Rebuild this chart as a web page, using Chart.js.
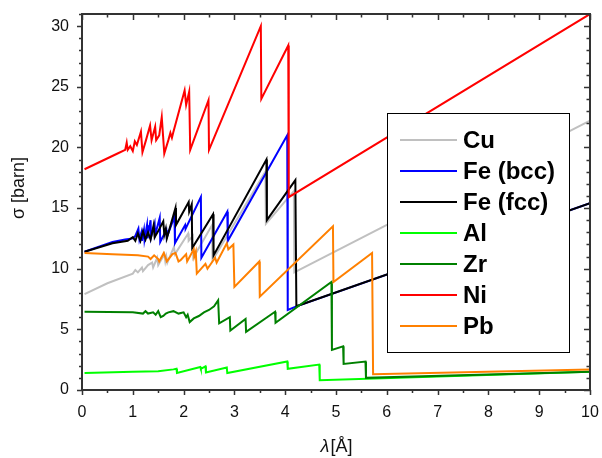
<!DOCTYPE html>
<html>
<head>
<meta charset="utf-8">
<script src="https://cdn.jsdelivr.net/npm/chart.js@4.4.0/dist/chart.umd.min.js"></script>
<style>
  html, body { margin: 0; padding: 0; background: #fff; }
  #chart { display: block; }
</style>
</head>
<body>
<canvas id="chart" width="602" height="458"></canvas>
<script>
// series labels and colours (legend order)
const seriesNames = ['Cu', 'Fe (bcc)', 'Fe (fcc)', 'Al', 'Zr', 'Ni', 'Pb'];
const seriesColors = ['#c0c0c0', '#0000ff', '#000000', '#00ff00', '#008000', '#ff0000', '#ff8000'];

// wavelength (Å) / cross-section (barn)
const cuX = [0.05, 0.5, 1.0, 1.05, 1.1, 1.18, 1.2, 1.3, 1.38, 1.4, 1.48, 1.5, 1.62, 1.64, 1.66, 1.68, 1.81, 1.83, 2.09, 2.1, 2.18, 2.19, 2.56, 2.57, 3.61, 3.62, 4.17, 4.18, 10];
const cuY = [7.9, 8.8, 9.6, 9.9, 9.7, 10.1, 9.8, 10.3, 10.5, 10.1, 10.9, 10.3, 11.2, 10.6, 11.0, 10.5, 11.8, 11.2, 12.9, 12.3, 12.7, 10.9, 13.6, 10.7, 18.0, 13.7, 16.4, 9.7, 22.2];

const feBccX = [0.05, 0.6, 0.85, 1.0, 1.05, 1.11, 1.13, 1.17, 1.18, 1.22, 1.23, 1.28, 1.29, 1.35, 1.36, 1.43, 1.44, 1.53, 1.54, 1.66, 1.67, 1.82, 1.83, 2.03, 2.04, 2.34, 2.35, 2.86, 2.87, 4.04, 4.05, 4.22, 10];
const feBccY = [11.4, 12.2, 12.4, 12.5, 12.7, 13.3, 12.4, 13.0, 12.3, 13.2, 12.4, 13.6, 12.5, 14.0, 12.6, 13.7, 12.8, 14.2, 12.2, 13.2, 12.6, 14.3, 12.1, 13.6, 13.3, 15.9, 10.9, 14.7, 12.3, 21.0, 6.6, 6.9, 15.4];

const feFccX = [0.05, 0.6, 0.9, 1.0, 1.05, 1.1, 1.15, 1.2, 1.25, 1.3, 1.35, 1.41, 1.43, 1.5, 1.6, 1.62, 1.65, 1.67, 1.84, 1.85, 2.1, 2.11, 2.16, 2.17, 2.58, 2.59, 3.63, 3.64, 4.2, 4.22, 10];
const feFccY = [11.4, 12.1, 12.3, 12.6, 12.3, 12.9, 12.3, 13.1, 12.4, 13.0, 12.4, 13.6, 12.6, 13.1, 13.9, 12.8, 13.3, 12.5, 15.0, 13.6, 15.5, 14.7, 15.3, 11.7, 14.5, 11.1, 19.0, 14.0, 17.3, 6.9, 15.4];

const alX = [0.05, 1.0, 1.5, 1.8, 1.86, 1.87, 2.33, 2.34, 2.43, 2.44, 2.85, 2.86, 4.04, 4.05, 4.67, 4.68, 10];
const alY = [1.4, 1.5, 1.55, 1.7, 1.75, 1.4, 1.9, 1.75, 1.95, 1.45, 1.85, 1.4, 2.35, 1.75, 2.1, 0.8, 1.5];

const zrX = [0.05, 1.0, 1.2, 1.25, 1.3, 1.4, 1.45, 1.5, 1.55, 1.6, 1.65, 1.7, 1.8, 1.9, 2.0, 2.05, 2.08, 2.12, 2.2, 2.3, 2.4, 2.5, 2.6, 2.68, 2.7, 2.91, 2.92, 3.22, 3.23, 3.8, 3.81, 4.91, 4.92, 5.14, 5.15, 5.58, 5.59, 10];
const zrY = [6.45, 6.4, 6.3, 6.5, 6.3, 6.4, 6.2, 6.5, 6.0, 6.1, 6.3, 6.4, 6.5, 6.3, 6.4, 6.0, 6.2, 5.6, 5.9, 6.1, 6.4, 6.6, 6.9, 7.4, 5.5, 6.0, 4.9, 5.85, 4.8, 6.45, 5.55, 8.9, 3.3, 3.6, 2.15, 2.35, 1.0, 1.5];

const niX = [0.05, 0.7, 0.85, 0.88, 0.9, 0.95, 1.0, 1.04, 1.08, 1.16, 1.19, 1.26, 1.34, 1.37, 1.44, 1.46, 1.52, 1.57, 1.62, 1.7, 1.74, 1.77, 1.8, 2.02, 2.05, 2.11, 2.13, 2.49, 2.5, 3.52, 3.53, 4.06, 4.07, 10];
const niY = [18.2, 19.5, 19.8, 20.4, 19.8, 20.1, 19.7, 20.5, 20.2, 21.3, 19.6, 20.6, 21.8, 20.6, 21.7, 20.6, 21.0, 22.5, 19.5, 20.6, 21.2, 20.8, 21.3, 24.7, 23.5, 24.6, 19.8, 23.9, 19.8, 30.0, 24.0, 28.4, 15.9, 31.0];

const pbX = [0.05, 0.6, 1.1, 1.3, 1.35, 1.42, 1.5, 1.52, 1.61, 1.67, 1.78, 1.84, 1.9, 1.94, 2.05, 2.07, 2.2, 2.21, 2.24, 2.26, 2.43, 2.47, 2.62, 2.65, 2.85, 2.88, 2.98, 3.0, 3.49, 3.5, 4.94, 4.95, 5.71, 5.73, 10];
const pbY = [11.3, 11.2, 11.1, 11.0, 10.8, 11.1, 10.8, 10.6, 11.3, 10.6, 11.2, 11.3, 10.6, 10.7, 11.2, 10.6, 11.6, 11.0, 11.4, 9.6, 10.4, 10.0, 10.9, 10.5, 12.1, 11.6, 12.0, 8.5, 10.6, 7.7, 13.5, 8.9, 11.3, 1.3, 1.7];

const seriesX = [cuX, feBccX, feFccX, alX, zrX, niX, pbX];
const seriesY = [cuY, feBccY, feFccY, alY, zrY, niY, pbY];

// axis ranges and tick labels
const xMin = 0, xMax = 10, xMajor = 1, xMinor = 0.5;
const yMin = 0, yMax = 31, yMajor = 5, yMinor = 1;
const xTickValues = [0, 1, 2, 3, 4, 5, 6, 7, 8, 9, 10];
const yTickValues = [0, 5, 10, 15, 20, 25, 30];

function toPoints(xs, ys) {
    return xs.map((x, i) => ({ x: x, y: ys[i] }));
}

const datasets = seriesNames.map((name, i) => ({
    label: name,
    data: toPoints(seriesX[i], seriesY[i]),
    borderColor: seriesColors[i],
    backgroundColor: seriesColors[i],
    borderWidth: 2,
    pointRadius: 0,
    tension: 0,
    fill: false,
    order: seriesNames.length - i
}));

const axisColor = '#333333';
const fontFamily = '"Liberation Sans", Arial, sans-serif';

// frame, tick marks, axis titles and the boxed legend
const framePlugin = {
    id: 'frame',
    afterDraw(chart) {
        const ctx = chart.ctx;
        const a = chart.chartArea;
        const xs = chart.scales.x;
        const ys = chart.scales.y;
        ctx.save();
        ctx.strokeStyle = axisColor;
        ctx.lineWidth = 1.5;

        // ticks
        ctx.beginPath();
        for (let v = xMin; v <= xMax + 1e-9; v += xMinor) {
            const px = Math.round(xs.getPixelForValue(v)) + 0.5;
            const major = Math.abs(v / xMajor - Math.round(v / xMajor)) < 1e-6;
            const out = major ? 5 : 3;
            const inn = major ? 6 : 3.5;
            ctx.moveTo(px, a.bottom); ctx.lineTo(px, a.bottom + out);
            ctx.moveTo(px, a.top); ctx.lineTo(px, a.top + inn);
        }
        for (let v = yMin; v <= yMax + 1e-9; v += yMinor) {
            const py = Math.round(ys.getPixelForValue(v)) + 0.5;
            const major = v % yMajor === 0;
            const out = major ? 5 : 3;
            const inn = major ? 6 : 3.5;
            ctx.moveTo(a.left, py); ctx.lineTo(a.left - out, py);
            ctx.moveTo(a.right, py); ctx.lineTo(a.right - inn, py);
        }
        ctx.stroke();

        // frame
        ctx.lineWidth = 2;
        ctx.strokeRect(a.left, a.top, a.right - a.left, a.bottom - a.top);

        // axis titles
        ctx.fillStyle = '#111';
        ctx.textBaseline = 'middle';
        ctx.font = '18px ' + fontFamily;
        ctx.save();
        ctx.translate(19, 188);
        ctx.rotate(-Math.PI / 2);
        ctx.textAlign = 'center';
        ctx.fillText('σ [barn]', 0, 0);
        ctx.restore();

        ctx.textAlign = 'left';
        ctx.font = 'italic 18px ' + fontFamily;
        const lam = 'λ';
        const wLam = ctx.measureText(lam).width;
        ctx.font = '18px ' + fontFamily;
        const rest = '[Å]';
        const wRest = ctx.measureText(rest).width;
        const startX = 336 - (wLam + wRest) / 2;
        ctx.font = 'italic 18px ' + fontFamily;
        ctx.fillText(lam, startX, 447);
        ctx.font = '18px ' + fontFamily;
        ctx.fillText(rest, startX + wLam + 1, 447);

        // legend box
        const box = { x: 387, y: 113, w: 182, h: 239 };
        ctx.fillStyle = '#fff';
        ctx.fillRect(box.x, box.y, box.w, box.h);
        ctx.strokeStyle = '#000';
        ctx.lineWidth = 1;
        ctx.strokeRect(box.x + 0.5, box.y + 0.5, box.w, box.h);
        ctx.font = 'bold 24px ' + fontFamily;
        ctx.fillStyle = '#000';
        chart.data.datasets.forEach((ds, i) => {
            const cy = 140 + i * 31;
            ctx.strokeStyle = ds.borderColor;
            ctx.lineWidth = 2;
            ctx.beginPath();
            ctx.moveTo(400, cy);
            ctx.lineTo(457, cy);
            ctx.stroke();
            ctx.fillText(ds.label, 463, cy + 1);
        });
        ctx.restore();
    }
};

new Chart(document.getElementById('chart'), {
    type: 'line',
    data: { datasets: datasets },
    options: {
        responsive: false,
        animation: false,
        devicePixelRatio: 1,
        layout: { padding: { left: 0, right: 12, top: 14, bottom: 0 } },
        plugins: {
            legend: { display: false },
            tooltip: { enabled: false }
        },
        scales: {
            x: {
                type: 'linear',
                min: xMin,
                max: xMax,
                grid: { display: false, drawTicks: false },
                border: { display: false },
                ticks: {
                    padding: 13,
                    color: '#111',
                    font: { family: fontFamily, size: 16 },
                    maxRotation: 0
                },
                afterBuildTicks: s => { s.ticks = xTickValues.map(v => ({ value: v })); },
                afterFit: s => {
                    s.height = 68;
                    s.paddingLeft = 0;
                    s.paddingRight = 0;
                }
            },
            y: {
                type: 'linear',
                min: yMin,
                max: yMax,
                grid: { display: false, drawTicks: false },
                border: { display: false },
                ticks: {
                    padding: 13,
                    color: '#111',
                    font: { family: fontFamily, size: 16 }
                },
                afterBuildTicks: s => { s.ticks = yTickValues.map(v => ({ value: v })); },
                afterFit: s => {
                    s.width = 82;
                    s.paddingTop = 0;
                    s.paddingBottom = 0;
                }
            }
        }
    },
    plugins: [framePlugin]
});
</script>
</body>
</html>
